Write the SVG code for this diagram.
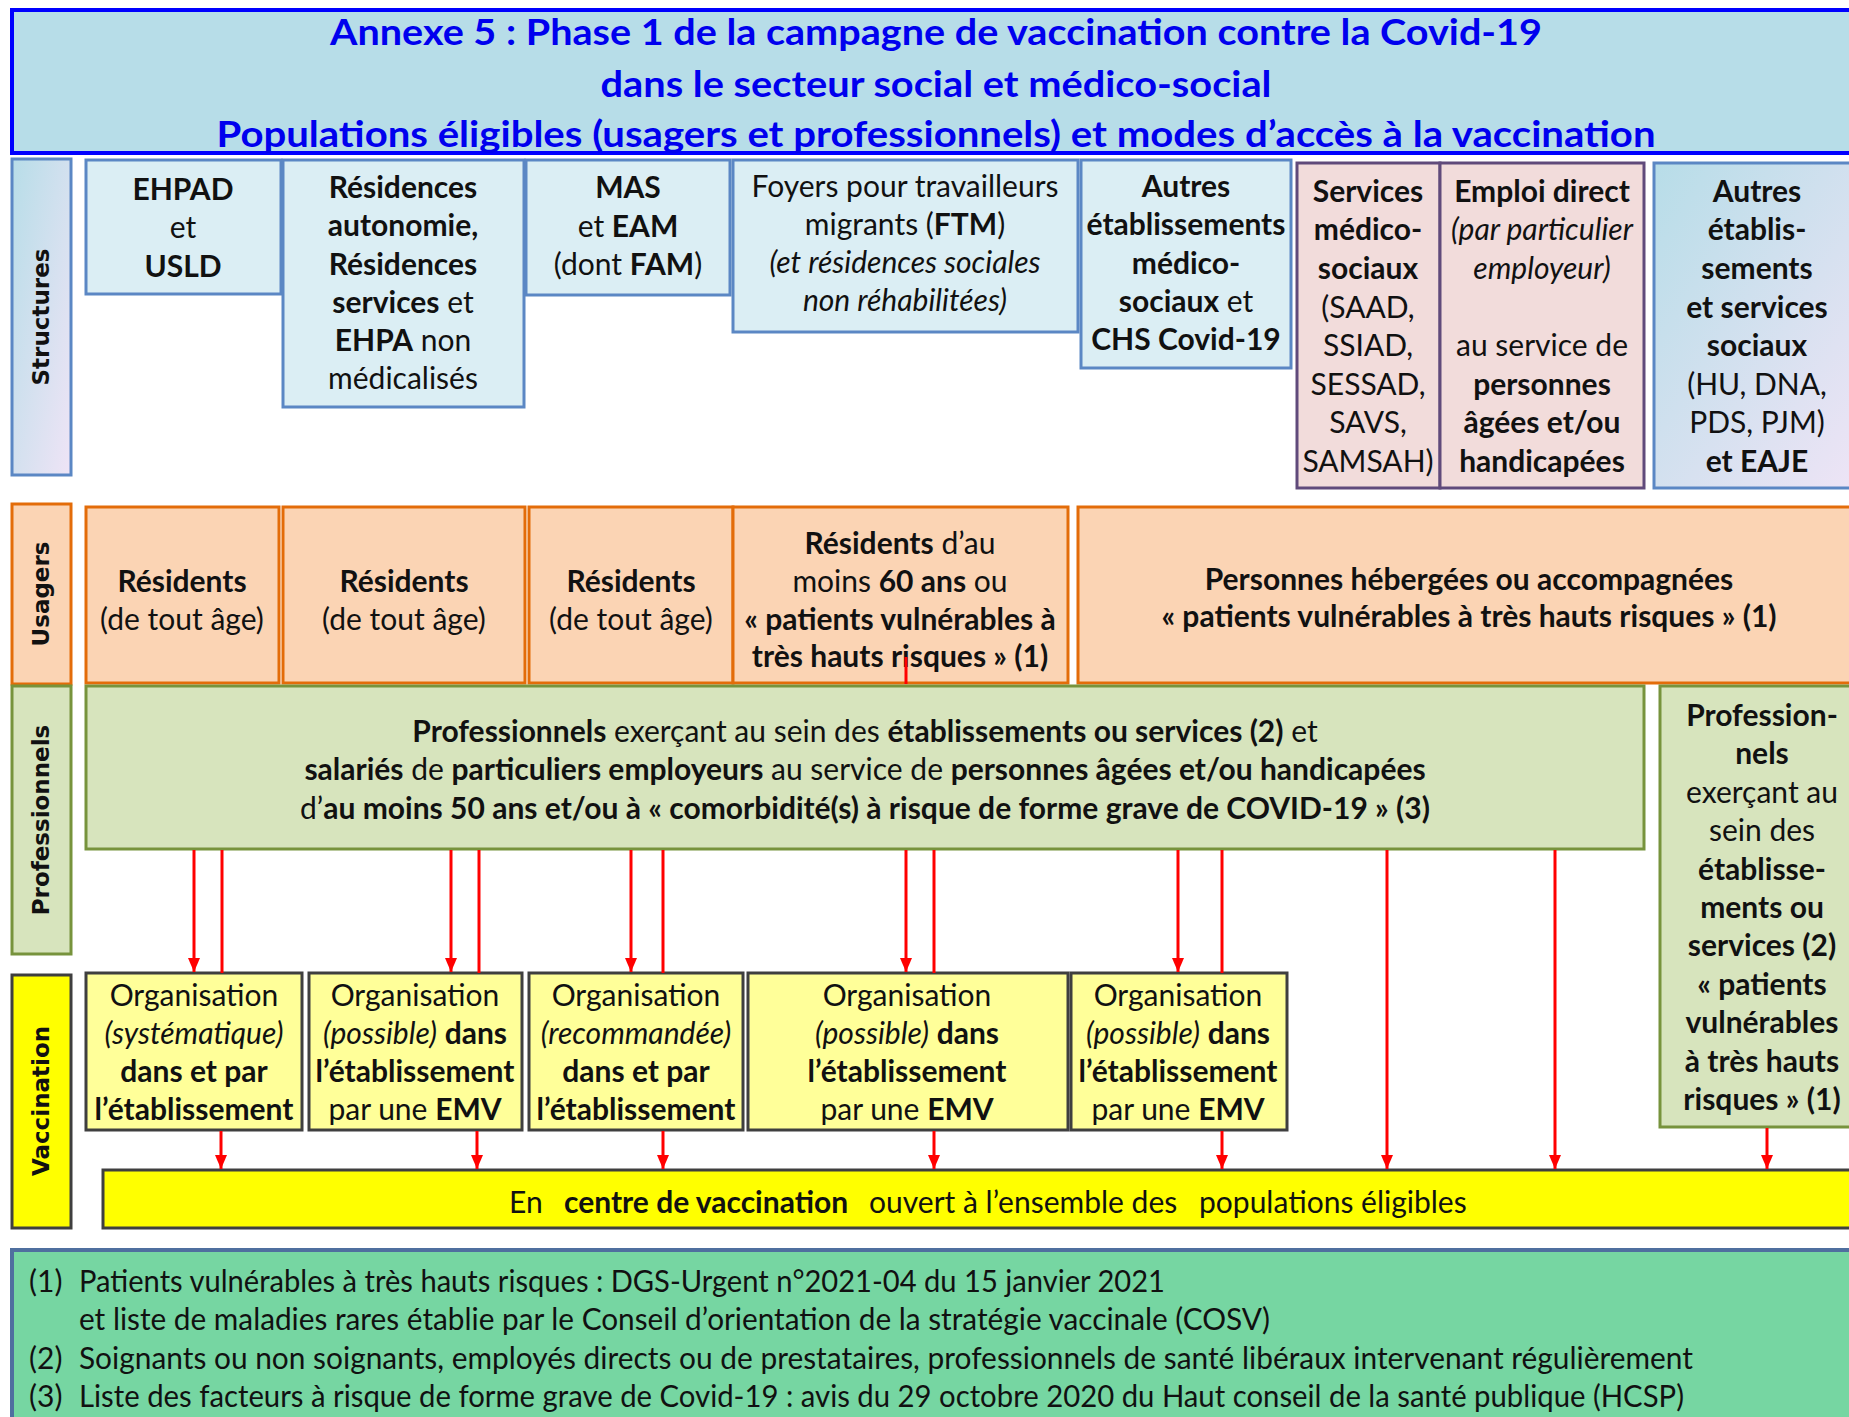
<svg xmlns="http://www.w3.org/2000/svg" width="1849" height="1417" viewBox="0 0 1849 1417">
<defs>
<style>
.t{font-family:Lato,"Liberation Sans",sans-serif;font-size:30px;fill:#111;text-anchor:middle}
.s{text-anchor:start}
.b{font-weight:bold}
.i{font-style:italic}
.ttl{font-family:Lato,"Liberation Sans",sans-serif;font-size:36px;font-weight:bold;fill:#0000ee;text-anchor:middle}
.lbl{font-family:"DejaVu Sans",Verdana,sans-serif;font-size:23px;font-weight:bold;fill:#111;text-anchor:middle}
.st{fill:#dbeef4;stroke:#5b87c4;stroke-width:3}
.sg{fill:url(#gs);stroke:#5b87c4;stroke-width:3}
.ms{fill:#f2dcdb;stroke:#604a7b;stroke-width:3}
.us{fill:#fbd4b4;stroke:#e36c09;stroke-width:3}
.pr{fill:#d7e4bd;stroke:#77933c;stroke-width:3}
.og{fill:#ffff99;stroke:#3f3f3f;stroke-width:3}
.cv{fill:#ffff00;stroke:#3f3f3f;stroke-width:3}
.ln{stroke:#ff0000;stroke-width:3;fill:none}
.ar{stroke:#ff0000;stroke-width:3;fill:none;marker-end:url(#ah)}
</style>
<linearGradient id="gs" x1="0" y1="0" x2="1" y2="1">
<stop offset="0" stop-color="#b7dde8"/>
<stop offset="1" stop-color="#efe4f6"/>
</linearGradient>
<marker id="ah" markerUnits="userSpaceOnUse" markerWidth="14" markerHeight="12" refX="14" refY="6" orient="auto">
<path d="M0,0 L14,6 L0,12 z" fill="#ff0000"/>
</marker>
</defs>

<g id="title">
<rect x="12" y="10" width="1860" height="143" fill="#b7dde8" stroke="#0000ff" stroke-width="4"/>
<text class="ttl" x="936" y="45" textLength="1212" lengthAdjust="spacingAndGlyphs">Annexe 5 : Phase 1 de la campagne de vaccination contre la Covid-19</text>
<text class="ttl" x="936" y="97" textLength="671" lengthAdjust="spacingAndGlyphs">dans le secteur social et médico-social</text>
<text class="ttl" x="936" y="147" textLength="1439" lengthAdjust="spacingAndGlyphs">Populations éligibles (usagers et professionnels) et modes d’accès à la vaccination</text>
</g>

<g id="label-structures">
<rect x="12" y="159" width="59" height="316" class="sg"/>
<text class="lbl" transform="translate(49,317) rotate(-90)">Structures</text>
</g>
<g id="label-usagers">
<rect x="12" y="504" width="59" height="180" class="us"/>
<text class="lbl" transform="translate(49,594) rotate(-90)">Usagers</text>
</g>
<g id="label-professionnels">
<rect x="12" y="686" width="59" height="268" class="pr"/>
<text class="lbl" transform="translate(49,820) rotate(-90)">Professionnels</text>
</g>
<g id="label-vaccination">
<rect x="12" y="975" width="59" height="253" class="cv"/>
<text class="lbl" transform="translate(49,1101) rotate(-90)">Vaccination</text>
</g>

<g id="s-ehpad">
<rect x="86" y="160" width="195" height="134" class="st"/>
<text class="t b" x="183" y="200">EHPAD</text>
<text class="t" x="183" y="238">et</text>
<text class="t b" x="183" y="277">USLD</text>
</g>
<g id="s-residences">
<rect x="283" y="160" width="241" height="247" class="st"/>
<text class="t b" x="403" y="198">Résidences</text>
<text class="t b" x="403" y="236">autonomie,</text>
<text class="t b" x="403" y="275">Résidences</text>
<text class="t" x="403" y="313"><tspan class="b">services</tspan> et</text>
<text class="t" x="403" y="351"><tspan class="b">EHPA</tspan> non</text>
<text class="t" x="403" y="389">médicalisés</text>
</g>
<g id="s-mas">
<rect x="526" y="160" width="204" height="135" class="st"/>
<text class="t b" x="628" y="198">MAS</text>
<text class="t" x="628" y="237">et <tspan class="b">EAM</tspan></text>
<text class="t" x="628" y="275">(dont <tspan class="b">FAM</tspan>)</text>
</g>
<g id="s-foyers">
<rect x="733" y="160" width="345" height="172" class="st"/>
<text class="t" x="905" y="197">Foyers pour travailleurs</text>
<text class="t" x="905" y="235">migrants (<tspan class="b">FTM</tspan>)</text>
<text class="t i" x="905" y="273">(et résidences sociales</text>
<text class="t i" x="905" y="311">non réhabilitées)</text>
</g>
<g id="s-autres-ms">
<rect x="1081" y="160" width="210" height="208" class="st"/>
<text class="t b" x="1186" y="197">Autres</text>
<text class="t b" x="1186" y="235">établissements</text>
<text class="t b" x="1186" y="274">médico-</text>
<text class="t" x="1186" y="312"><tspan class="b">sociaux</tspan> et</text>
<text class="t b" x="1186" y="350">CHS Covid-19</text>
</g>
<g id="s-services">
<rect x="1297" y="163" width="143" height="325" class="ms"/>
<text class="t b" x="1368" y="202">Services</text>
<text class="t b" x="1368" y="240">médico-</text>
<text class="t b" x="1368" y="279">sociaux</text>
<text class="t" x="1368" y="318">(SAAD,</text>
<text class="t" x="1368" y="356">SSIAD,</text>
<text class="t" x="1368" y="395">SESSAD,</text>
<text class="t" x="1368" y="433">SAVS,</text>
<text class="t" x="1368" y="472">SAMSAH)</text>
</g>
<g id="s-emploi">
<rect x="1440" y="163" width="204" height="325" class="ms"/>
<text class="t b" x="1542" y="202">Emploi direct</text>
<text class="t i" x="1542" y="240">(par particulier</text>
<text class="t i" x="1542" y="279">employeur)</text>
<text class="t" x="1542" y="356">au service de</text>
<text class="t b" x="1542" y="395">personnes</text>
<text class="t b" x="1542" y="433">âgées et/ou</text>
<text class="t b" x="1542" y="472">handicapées</text>
</g>
<g id="s-autres-sociaux">
<rect x="1654" y="163" width="210" height="325" class="sg"/>
<text class="t b" x="1757" y="202">Autres</text>
<text class="t b" x="1757" y="240">établis-</text>
<text class="t b" x="1757" y="279">sements</text>
<text class="t b" x="1757" y="318">et services</text>
<text class="t b" x="1757" y="356">sociaux</text>
<text class="t" x="1757" y="395">(HU, DNA,</text>
<text class="t" x="1757" y="433">PDS, PJM)</text>
<text class="t b" x="1757" y="472">et EAJE</text>
</g>

<g id="u1">
<rect x="86" y="507" width="193" height="176" class="us"/>
<text class="t b" x="182" y="592">Résidents</text>
<text class="t" x="182" y="630">(de tout âge)</text>
</g>
<g id="u2">
<rect x="283" y="507" width="242" height="176" class="us"/>
<text class="t b" x="404" y="592">Résidents</text>
<text class="t" x="404" y="630">(de tout âge)</text>
</g>
<g id="u3">
<rect x="529" y="507" width="204" height="176" class="us"/>
<text class="t b" x="631" y="592">Résidents</text>
<text class="t" x="631" y="630">(de tout âge)</text>
</g>
<g id="u4">
<rect x="733" y="507" width="335" height="176" class="us"/>
<text class="t" x="900" y="554"><tspan class="b">Résidents</tspan> d’au</text>
<text class="t" x="900" y="592">moins <tspan class="b">60 ans</tspan> ou</text>
<text class="t b" x="900" y="630">« patients vulnérables à</text>
<text class="t b" x="900" y="667">très hauts risques » (1)</text>
</g>
<g id="u5">
<rect x="1078" y="507" width="790" height="176" class="us"/>
<text class="t b" x="1469" y="590">Personnes hébergées ou accompagnées</text>
<text class="t b" x="1469" y="627">« patients vulnérables à très hauts risques » (1)</text>
</g>

<g id="p-main">
<rect x="86" y="686" width="1558" height="163" class="pr"/>
<text class="t" x="865" y="742"><tspan class="b">Professionnels</tspan> exerçant au sein des <tspan class="b">établissements ou services (2)</tspan> et</text>
<text class="t" x="865" y="780"><tspan class="b">salariés</tspan> de <tspan class="b">particuliers employeurs</tspan> au service de <tspan class="b">personnes âgées et/ou handicapées</tspan></text>
<text class="t" x="865" y="819">d’<tspan class="b">au moins 50 ans et/ou à « comorbidité(s) à risque de forme grave de COVID-19 » (3)</tspan></text>
</g>
<g id="p-sociaux">
<rect x="1660" y="686" width="205" height="441" class="pr"/>
<text class="t b" x="1762" y="726">Profession-</text>
<text class="t b" x="1762" y="764">nels</text>
<text class="t" x="1762" y="803">exerçant au</text>
<text class="t" x="1762" y="841">sein des</text>
<text class="t b" x="1762" y="880">établisse-</text>
<text class="t b" x="1762" y="918">ments ou</text>
<text class="t b" x="1762" y="956">services (2)</text>
<text class="t b" x="1762" y="995">« patients</text>
<text class="t b" x="1762" y="1033">vulnérables</text>
<text class="t b" x="1762" y="1072">à très hauts</text>
<text class="t b" x="1762" y="1110">risques » (1)</text>
</g>

<g id="o1">
<rect x="86" y="973" width="216" height="157" class="og"/>
<text class="t" x="194" y="1006">Organisation</text>
<text class="t i" x="194" y="1044">(systématique)</text>
<text class="t b" x="194" y="1082">dans et par</text>
<text class="t b" x="194" y="1120">l’établissement</text>
</g>
<g id="o2">
<rect x="309" y="973" width="213" height="157" class="og"/>
<text class="t" x="415" y="1006">Organisation</text>
<text class="t" x="415" y="1044"><tspan class="i">(possible)</tspan> <tspan class="b">dans</tspan></text>
<text class="t b" x="415" y="1082">l’établissement</text>
<text class="t" x="415" y="1120">par une <tspan class="b">EMV</tspan></text>
</g>
<g id="o3">
<rect x="529" y="973" width="214" height="157" class="og"/>
<text class="t" x="636" y="1006">Organisation</text>
<text class="t i" x="636" y="1044">(recommandée)</text>
<text class="t b" x="636" y="1082">dans et par</text>
<text class="t b" x="636" y="1120">l’établissement</text>
</g>
<g id="o4">
<rect x="748" y="973" width="320" height="157" class="og"/>
<text class="t" x="907" y="1006">Organisation</text>
<text class="t" x="907" y="1044"><tspan class="i">(possible)</tspan> <tspan class="b">dans</tspan></text>
<text class="t b" x="907" y="1082">l’établissement</text>
<text class="t" x="907" y="1120">par une <tspan class="b">EMV</tspan></text>
</g>
<g id="o5">
<rect x="1071" y="973" width="216" height="157" class="og"/>
<text class="t" x="1178" y="1006">Organisation</text>
<text class="t" x="1178" y="1044"><tspan class="i">(possible)</tspan> <tspan class="b">dans</tspan></text>
<text class="t b" x="1178" y="1082">l’établissement</text>
<text class="t" x="1178" y="1120">par une <tspan class="b">EMV</tspan></text>
</g>

<g id="centre">
<rect x="103" y="1170" width="1770" height="58" class="cv"/>
<text class="t s" y="1213"><tspan x="509">En</tspan><tspan x="564" class="b">centre de vaccination</tspan><tspan x="869">ouvert à l’ensemble des</tspan><tspan x="1199">populations éligibles</tspan></text>
</g>

<g id="notes">
<rect x="12" y="1250" width="1860" height="200" fill="#76d6a2" stroke="#4f6f9f" stroke-width="4"/>
<text class="t s" x="29" y="1292">(1)</text>
<text class="t s" x="79" y="1292" textLength="1086" lengthAdjust="spacingAndGlyphs">Patients vulnérables à très hauts risques : DGS-Urgent n°2021-04 du 15 janvier 2021</text>
<text class="t s" x="79" y="1330" textLength="1191" lengthAdjust="spacingAndGlyphs">et liste de maladies rares établie par le Conseil d’orientation de la stratégie vaccinale (COSV)</text>
<text class="t s" x="29" y="1369">(2)</text>
<text class="t s" x="79" y="1369" textLength="1614" lengthAdjust="spacingAndGlyphs">Soignants ou non soignants, employés directs ou de prestataires, professionnels de santé libéraux intervenant régulièrement</text>
<text class="t s" x="29" y="1407">(3)</text>
<text class="t s" x="79" y="1407" textLength="1605" lengthAdjust="spacingAndGlyphs">Liste des facteurs à risque de forme grave de Covid-19 : avis du 29 octobre 2020 du Haut conseil de la santé publique (HCSP)</text>
</g>

<g id="connectors">
<line class="ar" x1="194" y1="850" x2="194" y2="972"/>
<line class="ln" x1="222" y1="850" x2="222" y2="973"/>
<line class="ar" x1="451" y1="850" x2="451" y2="972"/>
<line class="ln" x1="479" y1="850" x2="479" y2="973"/>
<line class="ar" x1="631" y1="850" x2="631" y2="972"/>
<line class="ln" x1="663" y1="850" x2="663" y2="973"/>
<line class="ln" x1="906" y1="657" x2="906" y2="684"/>
<line class="ar" x1="906" y1="850" x2="906" y2="972"/>
<line class="ln" x1="934" y1="850" x2="934" y2="973"/>
<line class="ar" x1="1178" y1="850" x2="1178" y2="972"/>
<line class="ln" x1="1222" y1="850" x2="1222" y2="973"/>
<line class="ar" x1="1387" y1="850" x2="1387" y2="1169"/>
<line class="ar" x1="1555" y1="850" x2="1555" y2="1169"/>
<line class="ar" x1="221" y1="1131" x2="221" y2="1169"/>
<line class="ar" x1="477" y1="1131" x2="477" y2="1169"/>
<line class="ar" x1="663" y1="1131" x2="663" y2="1169"/>
<line class="ar" x1="934" y1="1131" x2="934" y2="1169"/>
<line class="ar" x1="1222" y1="1131" x2="1222" y2="1169"/>
<line class="ar" x1="1767" y1="1128" x2="1767" y2="1169"/>
</g>
</svg>
